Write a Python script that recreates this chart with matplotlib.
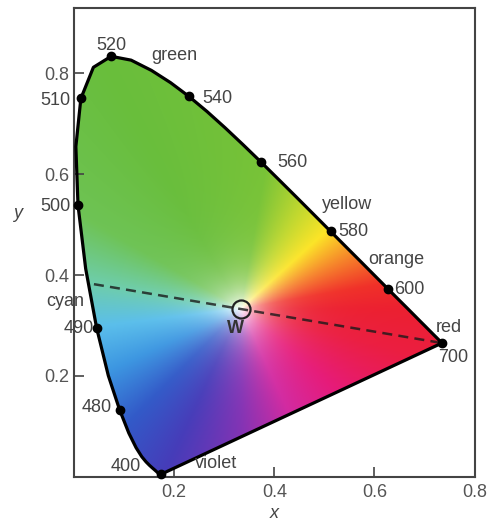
import numpy as np
import matplotlib
matplotlib.use("Agg")
import matplotlib.pyplot as plt
from matplotlib.patches import Polygon

plt.rcParams['font.family'] = ['Liberation Sans', 'DejaVu Sans']

# CIE 1931 spectral locus, 400-700 nm in 5 nm steps
wavelengths = list(range(400, 705, 5))
locus_x = [0.1733, 0.1730, 0.1726, 0.1721, 0.1714, 0.1703, 0.1689, 0.1669, 0.1644, 0.1611,
           0.1566, 0.1510, 0.1440, 0.1355, 0.1241, 0.1096, 0.0913, 0.0687, 0.0454, 0.0235,
           0.0082, 0.0039, 0.0139, 0.0389, 0.0743, 0.1142, 0.1547, 0.1929, 0.2296, 0.2658,
           0.3016, 0.3373, 0.3731, 0.4087, 0.4441, 0.4788, 0.5125, 0.5448, 0.5752, 0.6029,
           0.6270, 0.6482, 0.6658, 0.6801, 0.6915, 0.7006, 0.7079, 0.7140, 0.7190, 0.7230,
           0.7260, 0.7283, 0.7300, 0.7311, 0.7320, 0.7327, 0.7334, 0.7340, 0.7344, 0.7346,
           0.7347]
locus_y = [0.0048, 0.0048, 0.0048, 0.0048, 0.0051, 0.0058, 0.0069, 0.0086, 0.0109, 0.0138,
           0.0177, 0.0227, 0.0297, 0.0399, 0.0578, 0.0868, 0.1327, 0.2007, 0.2950, 0.4127,
           0.5384, 0.6548, 0.7502, 0.8120, 0.8338, 0.8262, 0.8059, 0.7816, 0.7543, 0.7243,
           0.6923, 0.6589, 0.6245, 0.5896, 0.5547, 0.5202, 0.4866, 0.4544, 0.4242, 0.3965,
           0.3725, 0.3514, 0.3340, 0.3197, 0.3083, 0.2993, 0.2920, 0.2859, 0.2809, 0.2770,
           0.2740, 0.2717, 0.2700, 0.2689, 0.2680, 0.2673, 0.2666, 0.2660, 0.2656, 0.2654,
           0.2653]

marked_nm = [400, 480, 490, 500, 510, 520, 540, 560, 580, 600, 700]
white_point = (0.333, 0.333)
dash_start = (0.04, 0.382)

# (text, x, y, ha)
labels = [
    ("520", 0.074, 0.855, "center"), ("green", 0.200, 0.836, "center"),
    ("540", 0.256, 0.750, "left"), ("560", 0.406, 0.624, "left"),
    ("yellow", 0.546, 0.539, "center"), ("580", 0.528, 0.487, "left"),
    ("orange", 0.644, 0.430, "center"), ("600", 0.640, 0.372, "left"),
    ("red", 0.748, 0.297, "center"), ("700", 0.758, 0.236, "center"),
    ("cyan", -0.018, 0.347, "center"), ("490", 0.040, 0.295, "right"),
    ("480", 0.076, 0.137, "right"), ("400", 0.134, 0.020, "right"),
    ("violet", 0.284, 0.026, "center"), ("500", -0.006, 0.537, "right"),
    ("510", -0.006, 0.747, "right"),
]

# hue anchors around the white point (degrees, rgb)
hue_deg = [0, 10, 25, 42, 60, 80, 120, 150, 170, 187, 205, 225, 245, 270, 295, 320, 345]
hue_rgb = [(236, 32, 48), (240, 48, 40), (246, 130, 40), (252, 228, 36), (190, 215, 45),
           (120, 195, 55), (105, 190, 60), (110, 195, 85), (110, 205, 170), (90, 190, 235),
           (60, 150, 225), (50, 90, 200), (70, 60, 185), (130, 50, 180), (210, 40, 160),
           (230, 25, 120), (235, 30, 65)]

fig = plt.figure(figsize=(4.96, 5.2), dpi=100)
ax = fig.add_axes([0.149, 0.083, 0.808, 0.902])
ax.set_xlim(0, 0.8)
ax.set_ylim(0, 0.93)

# colour fill
gx = np.linspace(0, 0.8, 500)
gy = np.linspace(0, 0.93, 580)
X, Y = np.meshgrid(gx, gy)
ang = np.degrees(np.arctan2(Y - white_point[1], X - white_point[0])) % 360
dist = np.hypot(X - white_point[0], Y - white_point[1])
anchors = np.array(hue_rgb) / 255.0
img = np.zeros(X.shape + (3,))
for c in range(3):
    img[..., c] = np.interp(ang, hue_deg, anchors[:, c], period=360)
sat = 1 - np.exp(-dist / 0.05)
img = 1 - sat[..., None] * (1 - img)

poly = Polygon(np.column_stack([locus_x, locus_y]), closed=True, facecolor="none",
               edgecolor="black", linewidth=2.3, joinstyle="round", zorder=3)
ax.add_patch(poly)
im = ax.imshow(img, origin="lower", extent=[0, 0.8, 0, 0.93], aspect="auto",
               interpolation="bilinear", zorder=1)
im.set_clip_path(poly)

# wavelength markers
mx = [locus_x[wavelengths.index(w)] for w in marked_nm]
my = [locus_y[wavelengths.index(w)] for w in marked_nm]
ax.plot(mx, my, "o", color="black", markersize=6, zorder=4, clip_on=False)

# line through the white point to 700 nm
ax.plot([dash_start[0], locus_x[-1]], [dash_start[1], locus_y[-1]], color="#1a1a1a",
        linestyle=(0, (4, 2.5)), linewidth=1.8, alpha=0.8, zorder=3)
ax.plot(*white_point, "o", markersize=13, markerfacecolor="none",
        markeredgecolor="#222222", markeredgewidth=1.6, zorder=5)
ax.text(0.322, 0.295, "W", fontsize=13, color="#333333", ha="center", va="center",
        fontweight="bold")

for txt, tx, ty, ha in labels:
    ax.text(tx, ty, txt, fontsize=13, color="#444444", ha=ha, va="center", clip_on=False)

ax.set_xticks([0.2, 0.4, 0.6, 0.8])
ax.set_yticks([0.2, 0.4, 0.6, 0.8])
ax.set_xticklabels(["0.2", "0.4", "0.6", "0.8"])
ax.set_yticklabels(["0.2", "0.4", "0.6", "0.8"])
ax.tick_params(direction="in", length=7, width=1.2, color="#444444",
               labelsize=13, labelcolor="#555555")
ax.tick_params(axis="y", pad=3)
ax.tick_params(axis="x", pad=5)
for sp in ax.spines.values():
    sp.set_color("#444444")
    sp.set_linewidth(1.5)

fig.text(18 / 496, 1 - 213 / 520, "y", fontsize=13, style="italic", color="#444444",
         ha="center", va="center")
fig.text(274 / 496, 1 - 513 / 520, "x", fontsize=13, style="italic", color="#444444",
         ha="center", va="center")

fig.savefig("out.png", dpi=100)
